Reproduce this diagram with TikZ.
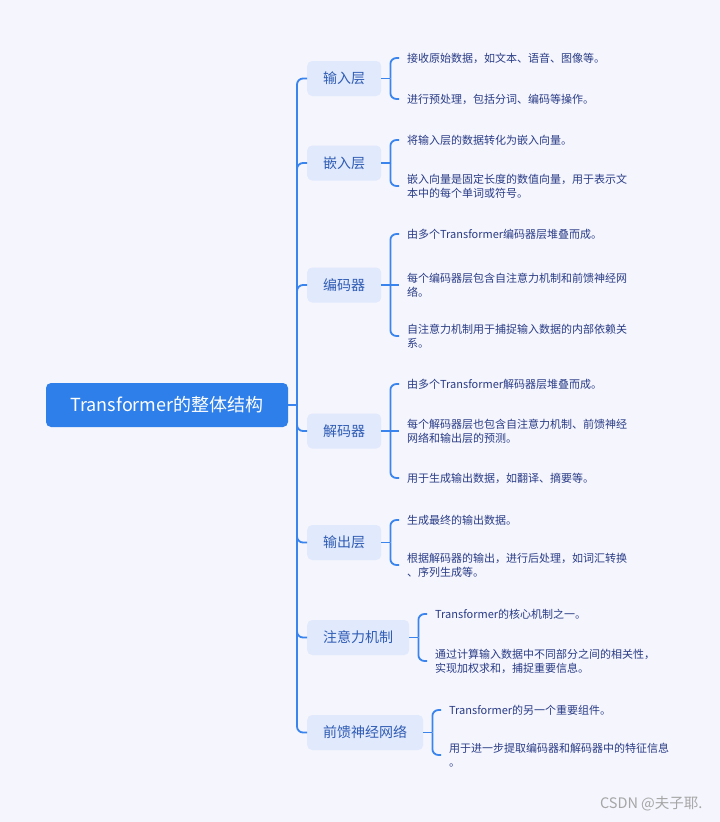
\documentclass[tikz,border=0pt]{standalone}
\usepackage{fontspec}
\setmainfont{Noto Sans CJK SC}
\usetikzlibrary{positioning}

\definecolor{bgcol}{HTML}{F4F5FD}
\definecolor{rootcol}{HTML}{2F7FEA}
\definecolor{boxcol}{HTML}{E1E9FC}
\definecolor{boxtext}{HTML}{2F5CB4}
\definecolor{leaftext}{HTML}{2A3C86}
\definecolor{linecol}{HTML}{3A84EE}

\begin{document}
\begin{tikzpicture}[x=1pt, y=-1pt,
  rootnode/.style={draw=none, fill=rootcol, rounded corners=5pt, text=white,
    minimum width=242pt, minimum height=44pt, font=\fontsize{18}{20}\selectfont},
  branch/.style={fill=boxcol, rounded corners=5pt, text=boxtext, anchor=west,
    inner xsep=16pt, minimum height=35pt, font=\fontsize{14}{16}\selectfont},
  leaf/.style={anchor=west, inner xsep=8pt, inner ysep=2pt, align=left, text=leaftext,
    font=\fontsize{11}{14}\selectfont},
  link/.style={draw=linecol, line width=1.8pt, rounded corners=6pt}]

\useasboundingbox[fill=bgcol] (0,0) rectangle (720,822);

% root
\node[rootnode] (root) at (167,405) {Transformer的整体结构};

% main branches
\node[branch] (b1) at (307,78.5) {输入层};
\node[branch] (b2) at (307,163) {嵌入层};
\node[branch] (b3) at (307,285) {编码器};
\node[branch] (b4) at (307,431) {解码器};
\node[branch] (b5) at (307,542.5) {输出层};
\node[branch] (b6) at (307,637.5) {注意力机制};
\node[branch] (b7) at (307,732.5) {前馈神经网络};

\coordinate (trunk) at (297,405);
\draw[link] (root.east) -- (trunk);
\foreach \b in {b1,b2,b3,b4,b5,b6,b7}
  \draw[link] (trunk) |- (\b.west);

% leaves
\node[leaf] (b1a) at (399,58) {接收原始数据，如文本、语音、图像等。};
\node[leaf] (b1b) at (399,99) {进行预处理，包括分词、编码等操作。};

\node[leaf] (b2a) at (399,140) {将输入层的数据转化为嵌入向量。};
\node[leaf] (b2b) at (399,186) {嵌入向量是固定长度的数值向量，用于表示文\\本中的每个单词或符号。};

\node[leaf] (b3a) at (399,234) {由多个Transformer编码器层堆叠而成。};
\node[leaf] (b3b) at (399,285) {每个编码器层包含自注意力机制和前馈神经网\\络。};
\node[leaf] (b3c) at (399,336) {自注意力机制用于捕捉输入数据的内部依赖关\\系。};

\node[leaf] (b4a) at (399,384) {由多个Transformer解码器层堆叠而成。};
\node[leaf] (b4b) at (399,431) {每个解码器层也包含自注意力机制、前馈神经\\网络和输出层的预测。};
\node[leaf] (b4c) at (399,478) {用于生成输出数据，如翻译、摘要等。};

\node[leaf] (b5a) at (399,520) {生成最终的输出数据。};
\node[leaf] (b5b) at (399,565) {根据解码器的输出，进行后处理，如词汇转换\\、序列生成等。};

\node[leaf] (b6a) at (427,614) {Transformer的核心机制之一。};
\node[leaf] (b6b) at (427,661) {通过计算输入数据中不同部分之间的相关性，\\实现加权求和，捕捉重要信息。};

\node[leaf] (b7a) at (441,710) {Transformer的另一个重要组件。};
\node[leaf] (b7b) at (441,755) {用于进一步提取编码器和解码器中的特征信息\\。};

% brackets
\coordinate (j1) at ([xshift=9pt]b1.east);
\coordinate (j2) at ([xshift=9pt]b2.east);
\coordinate (j3) at ([xshift=9pt]b3.east);
\coordinate (j4) at ([xshift=9pt]b4.east);
\coordinate (j5) at ([xshift=9pt]b5.east);
\coordinate (j6) at ([xshift=9pt]b6.east);
\coordinate (j7) at ([xshift=9pt]b7.east);

\draw[link] (b1.east) -- (j1);
\draw[link] (j1) |- (b1a.west);
\draw[link] (j1) |- (b1b.west);

\draw[link] (b2.east) -- (j2);
\draw[link] (j2) |- (b2a.west);
\draw[link] (j2) |- (b2b.west);

\draw[link] (b3.east) -- (b3b.west);
\draw[link] (j3) |- (b3a.west);
\draw[link] (j3) |- (b3c.west);

\draw[link] (b4.east) -- (b4b.west);
\draw[link] (j4) |- (b4a.west);
\draw[link] (j4) |- (b4c.west);

\draw[link] (b5.east) -- (j5);
\draw[link] (j5) |- (b5a.west);
\draw[link] (j5) |- (b5b.west);

\draw[link] (b6.east) -- (j6);
\draw[link] (j6) |- (b6a.west);
\draw[link] (j6) |- (b6b.west);

\draw[link] (b7.east) -- (j7);
\draw[link] (j7) |- (b7a.west);
\draw[link] (j7) |- (b7b.west);

\node[anchor=east, text=gray!70, font=\fontsize{14.5}{16}\selectfont] (mark) at (706,804) {CSDN @夫子耶.};

\end{tikzpicture}
\end{document}
